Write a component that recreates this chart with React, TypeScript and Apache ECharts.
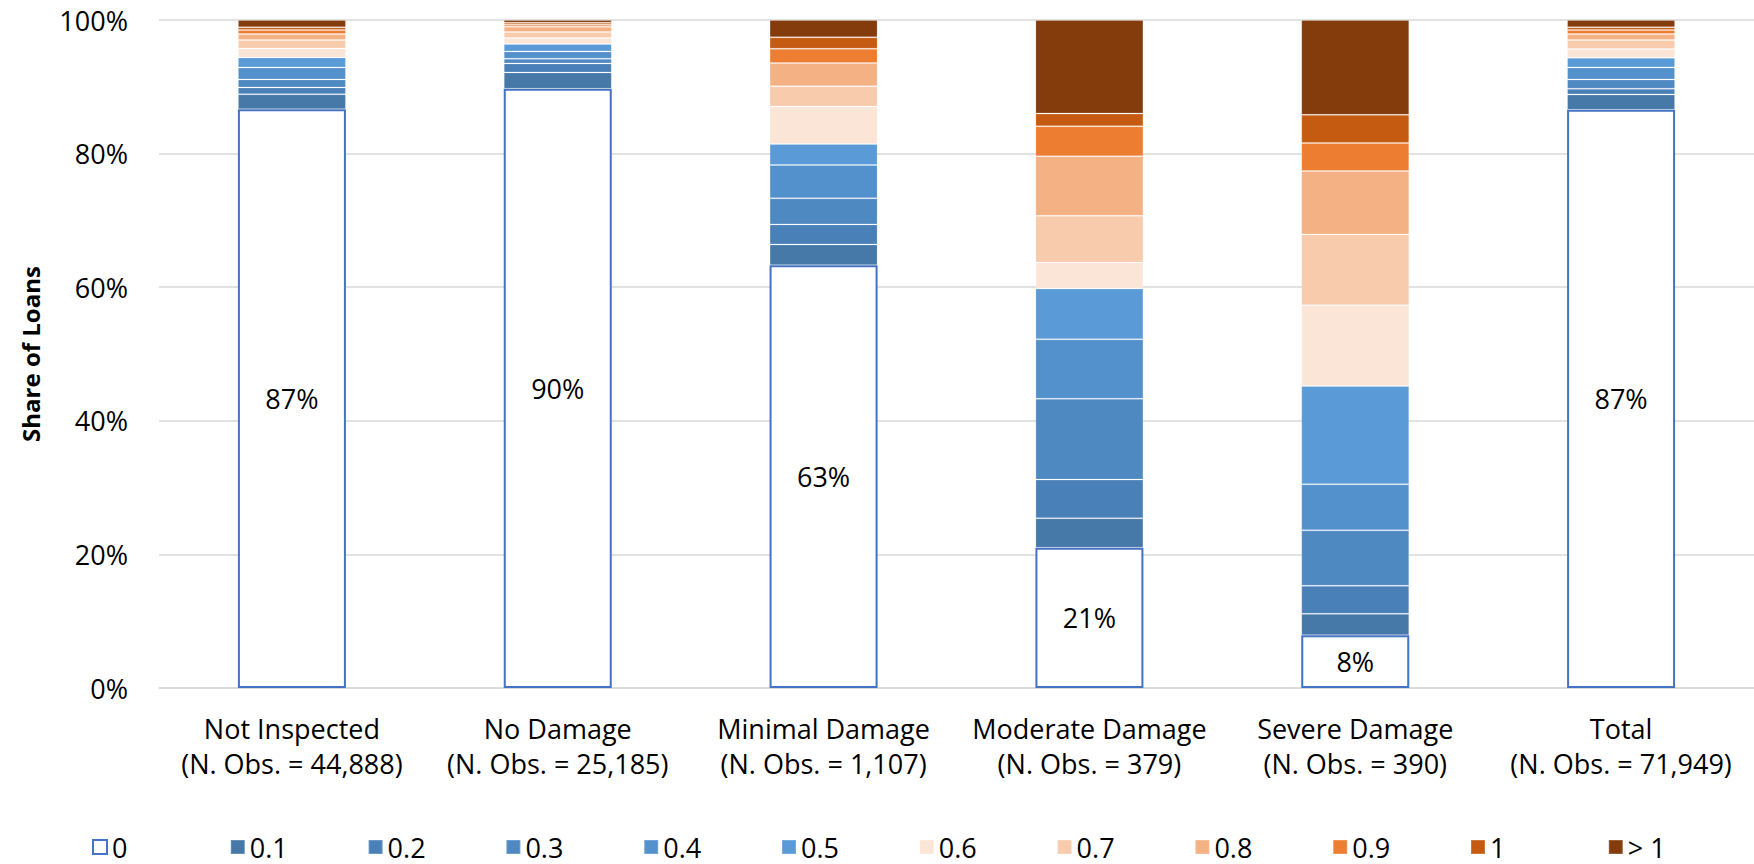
import React, { useEffect, useRef } from "react";
import * as echarts from "echarts";

const categories = [
  "Not Inspected",
  "No Damage",
  "Minimal Damage",
  "Moderate Damage",
  "Severe Damage",
  "Total",
];
const obsCounts = ["44,888", "25,185", "1,107", "379", "390", "71,949"];

const seriesNames = ["0", "0.1", "0.2", "0.3", "0.4", "0.5", "0.6", "0.7", "0.8", "0.9", "1", "> 1"];
const colors = [
  "#FFFFFF",
  "#4678A8",
  "#4A80B8",
  "#4F89C2",
  "#5391CC",
  "#5A9BD7",
  "#FBE5D6",
  "#F8CBAD",
  "#F4B183",
  "#ED7D31",
  "#C55A11",
  "#843C0C",
];

const s0 = [86.65, 89.7, 63.3, 21.0, 7.9, 86.55];
const s01 = [2.25, 2.45, 3.1, 4.4, 3.2, 2.3];
const s02 = [1.0, 1.35, 3.0, 5.8, 4.2, 0.85];
const s03 = [1.2, 0.7, 3.9, 12.1, 8.3, 1.4];
const s04 = [1.8, 1.1, 5.0, 8.9, 6.9, 1.8];
const s05 = [1.5, 1.1, 3.15, 7.6, 14.7, 1.45];
const s06 = [1.35, 0.9, 5.6, 3.9, 12.1, 1.3];
const s07 = [1.25, 0.9, 3.05, 7.0, 10.6, 1.35];
const s08 = [0.9, 0.8, 3.45, 8.9, 9.5, 0.9];
const s09 = [0.6, 0.3, 2.15, 4.5, 4.2, 0.6];
const s1 = [0.4, 0.3, 1.7, 1.9, 4.2, 0.4];
const sGt1 = [1.1, 0.4, 2.6, 14.0, 14.2, 1.1];

const allSeries = [s0, s01, s02, s03, s04, s05, s06, s07, s08, s09, s1, sGt1];

const FONT = "'Open Sans', 'Noto Sans', sans-serif";
const FS = 27;

export default function App() {
  const ref = useRef<HTMLDivElement>(null);

  useEffect(() => {
    document.body.style.margin = "0";
    document.body.style.overflow = "hidden";
    if (!ref.current) return;
    const chart = echarts.init(ref.current, null, { renderer: "svg" });

    const series = allSeries.map((data, i) => {
      const isZero = i === 0;
      return {
        name: seriesNames[i],
        type: "bar",
        stack: "total",
        barWidth: 108,
        data,
        itemStyle: isZero
          ? { color: "#FFFFFF", borderColor: "#4472C4", borderWidth: 2 }
          : { color: colors[i], borderColor: "rgba(255,255,255,0.18)", borderWidth: 1 },
        label: isZero
          ? {
              show: true,
              position: "inside",
              color: "#000",
              fontFamily: FONT,
              fontSize: FS,
              formatter: (p: any) => Math.round(p.value) + "%",
            }
          : { show: false },
        emphasis: { disabled: true },
      };
    });

    const legends = seriesNames.map((name, i) => ({
      data: [name],
      left: 92 + i * 137.8,
      top: 832,
      padding: 0,
      itemWidth: 14,
      itemHeight: 14,
      itemGap: 0,
      icon: "rect",
      selectedMode: false,
      textStyle: { fontFamily: FONT, fontSize: FS, lineHeight: 30, color: "#000" },
    }));

    chart.setOption({
      animation: false,
      textStyle: { fontFamily: FONT },
      grid: { left: 159, top: 20, bottom: 176, width: 1613, containLabel: false },
      legend: legends,
      xAxis: {
        type: "category",
        data: categories.map((c, i) => c + "\n(N. Obs. = " + obsCounts[i] + ")"),
        axisTick: { show: false },
        axisLine: { lineStyle: { color: "#D9D9D9", width: 1.5 } },
        axisLabel: {
          color: "#000",
          fontFamily: FONT,
          fontSize: FS,
          lineHeight: 35,
          margin: 23,
          interval: 0,
        },
      },
      yAxis: {
        type: "value",
        min: 0,
        max: 100,
        interval: 20,
        name: "Share of Loans",
        nameLocation: "middle",
        nameGap: 117,
        nameTextStyle: { color: "#000", fontFamily: FONT, fontSize: 24, fontWeight: "bold" },
        axisLabel: {
          color: "#000",
          fontFamily: FONT,
          fontSize: FS,
          margin: 31,
          formatter: "{value}%",
        },
        splitLine: { lineStyle: { color: "#D9D9D9", width: 1.5 } },
        axisLine: { show: false },
        axisTick: { show: false },
      },
      series,
    });

    return () => chart.dispose();
  }, []);

  return (
    <div
      ref={ref}
      style={{ position: "absolute", left: 0, top: 0, width: 1754, height: 864 }}
    />
  );
}
